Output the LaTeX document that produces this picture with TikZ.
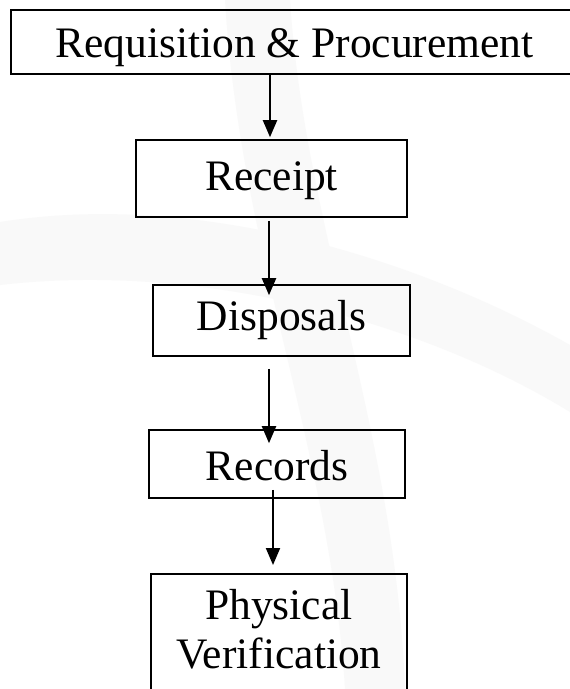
\documentclass[tikz,border=0pt]{standalone}
\usepackage{fontspec}
\setmainfont{Liberation Serif}
\usetikzlibrary{arrows.meta,calc}
\begin{document}
\begin{tikzpicture}[x=1pt,y=-1pt,
  box/.style={draw=black,line width=1.6pt,inner xsep=0pt,inner ysep=0pt,anchor=base,
    font=\fontsize{43.5}{49}\selectfont},
  txt/.style={inner sep=0pt,anchor=base,font=\fontsize{43.5}{49}\selectfont},
  arr/.style={line width=2pt,-{Triangle[width=14pt,length=17pt]}},
  wm/.style={fill=black!2.5,draw=none}]
\useasboundingbox (0,0) rectangle (570,689);
\fill[white] (0,0) rectangle (570,689);
\begin{scope}
\clip (0,0) rectangle (570,689);
% faint watermark
\fill[wm] (225,0) .. controls (240,250) and (330,450) .. (345,689)
  -- (405,689) .. controls (395,430) and (305,230) .. (290,0) -- cycle;
\fill[wm] (0,222) .. controls (200,190) and (420,260) .. (570,345)
  -- (570,412) .. controls (420,320) and (200,262) .. (0,285) -- cycle;
% boxes
\node[box,text height=47pt,text depth=17pt,minimum width=567pt] (req) at (294.5,57) {Requisition \& Procurement};
\node[box,text height=50pt,text depth=27pt,minimum width=271pt] (rec) at (271.5,190) {Receipt};
\node[box,text height=45pt,text depth=26pt,minimum width=257pt] (dis) at (281.5,330) {Disposals};
\node[box,text height=50pt,text depth=18pt,minimum width=256pt] (rcd) at (277,480) {Records};
\node[draw=black,line width=1.6pt,inner sep=0pt,anchor=north,minimum width=256pt,minimum height=150pt] (phy) at (279,573) {};
\node[txt] (phya) at (279,619) {Physical};
\node[txt] (phyb) at (279,668) {Verification};
% arrows
\draw[arr] ([xshift=-24.5pt]req.south) -- ([xshift=-1.5pt,yshift=2pt]rec.north);
\draw[arr] ([xshift=-2.5pt,yshift=-3pt]rec.south) -- ([xshift=-12.5pt,yshift=-11pt]dis.north);
\draw[arr] ([xshift=-12.5pt,yshift=-12pt]dis.south) -- ([xshift=-8pt,yshift=-14pt]rcd.north);
\draw[arr] ([xshift=-4pt,yshift=9pt]rcd.south) -- ([xshift=-6pt,yshift=8pt]phy.north);
\end{scope}
\end{tikzpicture}
\end{document}
